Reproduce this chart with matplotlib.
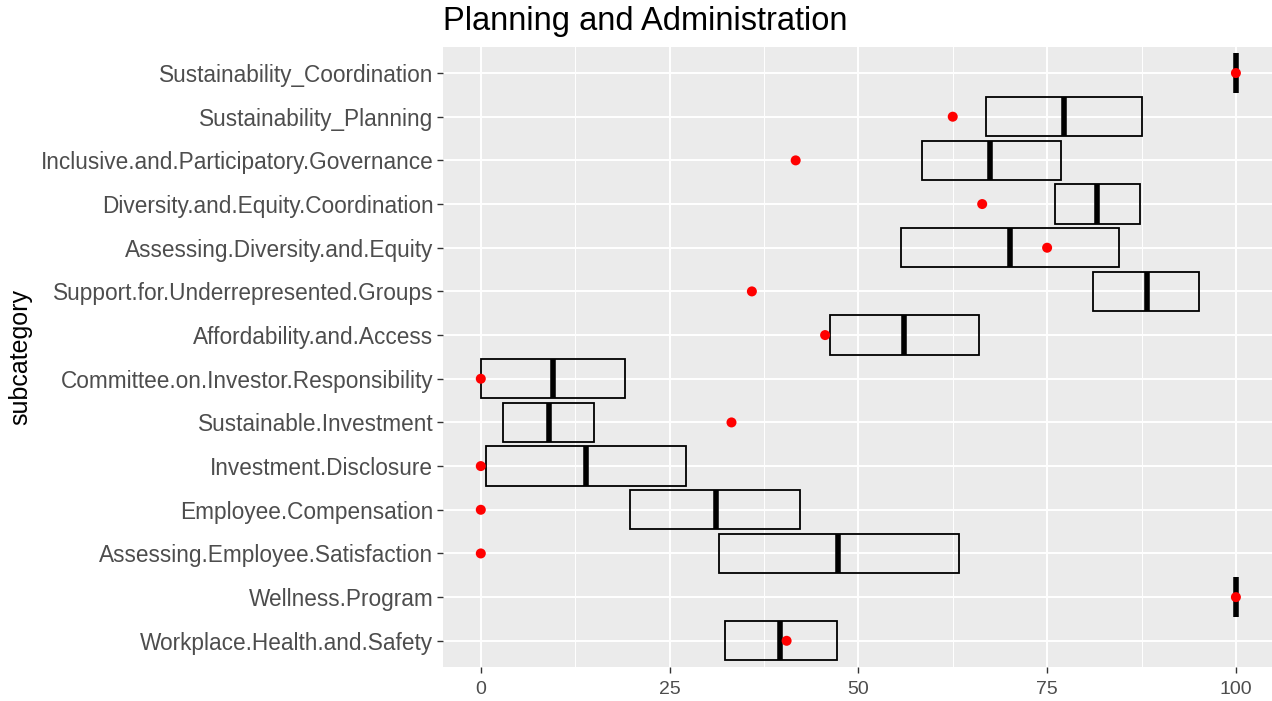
import numpy as np
import matplotlib
matplotlib.use('Agg')
import matplotlib.pyplot as plt
from matplotlib.ticker import MultipleLocator

plt.rcParams['font.family'] = ['Liberation Sans', 'DejaVu Sans']

subcategories = ['Sustainability_Coordination', 'Sustainability_Planning',
                 'Inclusive.and.Participatory.Governance', 'Diversity.and.Equity.Coordination',
                 'Assessing.Diversity.and.Equity', 'Support.for.Underrepresented.Groups',
                 'Affordability.and.Access', 'Committee.on.Investor.Responsibility',
                 'Sustainable.Investment', 'Investment.Disclosure', 'Employee.Compensation',
                 'Assessing.Employee.Satisfaction', 'Wellness.Program',
                 'Workplace.Health.and.Safety']
q1 = [100, 66.9, 58.4, 76.0, 55.7, 81.1, 46.2, 0.0, 2.9, 0.75, 19.8, 31.5, 100, 32.3]
median = [100, 77.2, 67.4, 81.6, 70.1, 88.2, 56.0, 9.5, 9.0, 13.9, 31.1, 47.3, 100, 39.6]
q3 = [100, 87.5, 76.8, 87.3, 84.5, 95.1, 66.0, 19.1, 15.0, 27.2, 42.3, 63.3, 100, 47.2]
score = [100, 62.5, 41.7, 66.4, 75.0, 35.9, 45.6, 0, 33.2, 0, 0, 0, 100, 40.5]

fig = plt.figure(figsize=(12.72, 7.01), dpi=100)
ax = fig.add_axes([0.3483, 0.0485, 0.653, 0.8847])
ax.set_facecolor('#EBEBEB')
for s in ax.spines.values():
    s.set_visible(False)

n = len(subcategories)
y = np.arange(n)[::-1]

ax.barh(y, np.array(q3) - np.array(q1), left=q1, height=0.9,
        facecolor='none', edgecolor='black', linewidth=1.3, zorder=3)
ax.vlines(median, y - 0.45, y + 0.45, colors='black', linewidth=4, zorder=4)
ax.scatter(score, y, s=52, color='red', edgecolors='none', zorder=5)

ax.set_xlim(-5, 105)
ax.set_ylim(-0.6, n - 0.4)
ax.set_yticks(y)
ax.set_yticklabels(subcategories)
ax.xaxis.set_major_locator(MultipleLocator(25))
ax.xaxis.set_minor_locator(MultipleLocator(12.5))
ax.grid(which='major', color='white', linewidth=1.4, zorder=0)
ax.grid(which='minor', axis='x', color='white', linewidth=0.7, zorder=0)
ax.set_axisbelow(True)
ax.tick_params(axis='both', which='major', length=4, width=1, color='#333333',
               labelcolor='#4D4D4D', pad=3)
ax.tick_params(axis='y', labelsize=16.3)
ax.tick_params(axis='x', labelsize=14, pad=6)
ax.tick_params(axis='both', which='minor', length=0)

ax.set_ylabel('subcategory', fontsize=18, color='black', labelpad=6)
ax.set_title('Planning and Administration', loc='left', fontsize=23.5, pad=12)

plt.savefig('out.png', dpi=100)
